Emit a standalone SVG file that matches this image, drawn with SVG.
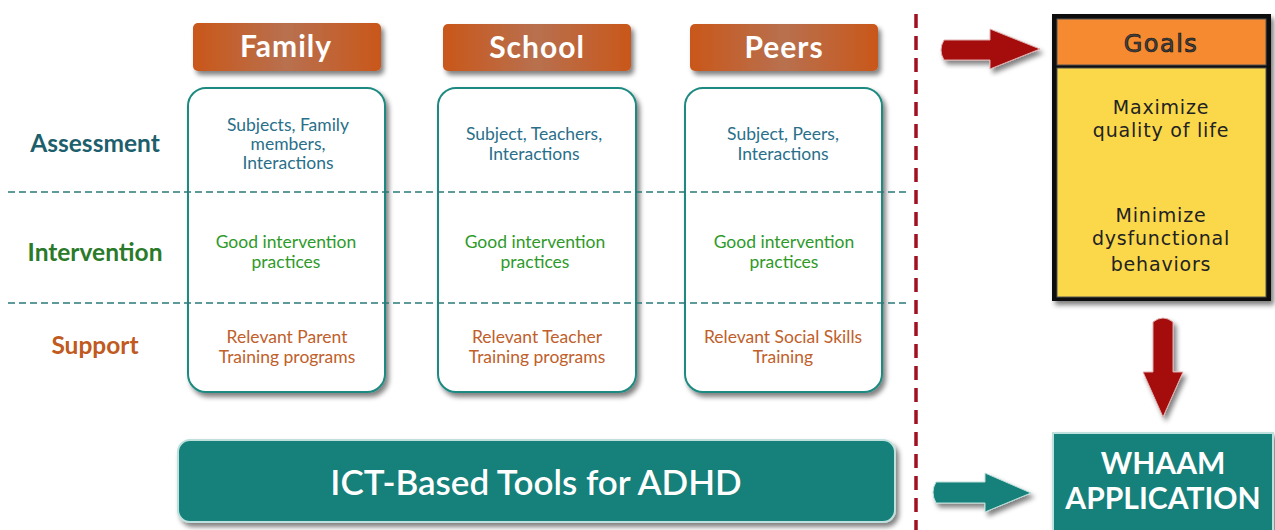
<svg xmlns="http://www.w3.org/2000/svg" width="1275" height="530" viewBox="0 0 1275 530">
<defs>
<linearGradient id="hdr" x1="0" y1="0" x2="1" y2="0">
<stop offset="0" stop-color="#c9571a"/><stop offset="0.5" stop-color="#b8704f"/><stop offset="1" stop-color="#c9571a"/>
</linearGradient>
<filter id="sh" x="-10%" y="-10%" width="130%" height="130%">
<feGaussianBlur in="SourceAlpha" stdDeviation="2.5"/><feOffset dx="3" dy="4"/>
<feComponentTransfer><feFuncA type="linear" slope="0.5"/></feComponentTransfer>
<feMerge><feMergeNode/><feMergeNode in="SourceGraphic"/></feMerge>
</filter>
<style>
.hdr{fill:url(#hdr);}
.hdrt{font-family:Lato,"Open Sans",sans-serif;font-weight:bold;font-size:30px;letter-spacing:1px;fill:#fff;text-anchor:middle;}
.col{fill:#fff;stroke:#1f8a80;stroke-width:2;}
.t{font-family:Lato,"Open Sans",sans-serif;font-size:17.5px;text-anchor:middle;}
.a{fill:#2a6f8a;}
.i{fill:#2e9a2a;}
.s{fill:#c0602a;}
.row{font-family:Lato,"Open Sans",sans-serif;font-weight:bold;font-size:24.5px;text-anchor:middle;}
.dash{stroke:#2a7a78;stroke-width:1.6;stroke-dasharray:7,4;fill:none;}
.goal{font-family:"DejaVu Sans",sans-serif;font-size:19px;letter-spacing:0.8px;fill:#222;text-anchor:middle;}
.teal{fill:#13807a;stroke:#bfe0dc;stroke-width:2;}
</style>
</defs>
<rect width="1275" height="530" fill="#fff"/>

<g id="row-labels">
<text class="row" x="95" y="152" fill="#1e5f6e">Assessment</text>
<text class="row" x="95" y="261" fill="#2a7a2a">Intervention</text>
<text class="row" x="95" y="354" fill="#c05a20">Support</text>
</g>

<g id="family">
<rect class="hdr" x="193" y="23" width="188" height="48" rx="5" filter="url(#sh)"/>
<text class="hdrt" x="286" y="57">Family</text>
<rect class="col" x="188" y="88" width="197" height="304" rx="18" filter="url(#sh)"/>
<text class="t a" x="288" y="131">Subjects, Family</text>
<text class="t a" x="288" y="150">members,</text>
<text class="t a" x="288" y="169">Interactions</text>
<text class="t i" x="286" y="248">Good intervention</text>
<text class="t i" x="286" y="268">practices</text>
<text class="t s" x="287" y="343">Relevant Parent</text>
<text class="t s" x="287" y="363">Training programs</text>
</g>

<g id="school">
<rect class="hdr" x="443" y="24" width="188" height="47" rx="5" filter="url(#sh)"/>
<text class="hdrt" x="537" y="58">School</text>
<rect class="col" x="438" y="88" width="198" height="304" rx="18" filter="url(#sh)"/>
<text class="t a" x="534" y="140">Subject, Teachers,</text>
<text class="t a" x="534" y="160">Interactions</text>
<text class="t i" x="535" y="248">Good intervention</text>
<text class="t i" x="535" y="268">practices</text>
<text class="t s" x="537" y="343">Relevant Teacher</text>
<text class="t s" x="537" y="363">Training programs</text>
</g>

<g id="peers">
<rect class="hdr" x="690" y="24" width="188" height="47" rx="5" filter="url(#sh)"/>
<text class="hdrt" x="784" y="58">Peers</text>
<rect class="col" x="685" y="88" width="197" height="304" rx="18" filter="url(#sh)"/>
<text class="t a" x="783" y="140">Subject, Peers,</text>
<text class="t a" x="783" y="160">Interactions</text>
<text class="t i" x="784" y="248">Good intervention</text>
<text class="t i" x="784" y="268">practices</text>
<text class="t s" x="783" y="343">Relevant Social Skills</text>
<text class="t s" x="783" y="363">Training</text>
</g>

<g id="dividers">
<line class="dash" x1="8" y1="192" x2="908" y2="192"/>
<line class="dash" x1="8" y1="303" x2="908" y2="303"/>
<line x1="916" y1="14" x2="916" y2="530" stroke="#a01020" stroke-width="3.5" stroke-dasharray="14,8"/>
</g>

<g id="ict">
<rect class="teal" x="178" y="440" width="717" height="82" rx="12" filter="url(#sh)"/>
<text x="536" y="495" font-family="Lato,'Open Sans',sans-serif" font-weight="600" font-size="35" fill="#fff" text-anchor="middle">ICT-Based Tools for ADHD</text>
</g>

<g id="goals">
<rect x="1052" y="14" width="219" height="287" fill="#111" filter="url(#sh)"/>
<rect x="1057" y="19" width="209" height="46" fill="#f58a30" stroke="#555" stroke-width="1"/>
<rect x="1057" y="68" width="209" height="229" fill="#fbd84a" stroke="#555" stroke-width="1"/>
<text x="1161" y="52" font-family="'DejaVu Sans',sans-serif" font-size="24" letter-spacing="1.5" fill="#444" stroke="#111" stroke-width="0.7" text-anchor="middle">Goals</text>
<text class="goal" x="1161" y="114">Maximize</text>
<text class="goal" x="1161" y="137">quality of life</text>
<text class="goal" x="1161" y="222">Minimize</text>
<text class="goal" x="1161" y="245">dysfunctional</text>
<text class="goal" x="1161" y="271">behaviors</text>
</g>

<g id="whaam">
<rect class="teal" x="1053" y="433" width="220" height="100" filter="url(#sh)"/>
<text x="1163" y="474" font-family="Lato,'Open Sans',sans-serif" font-weight="bold" font-size="30" fill="#fff" text-anchor="middle">WHAAM</text>
<text x="1163" y="509" font-family="Lato,'Open Sans',sans-serif" font-weight="bold" font-size="30" fill="#fff" text-anchor="middle">APPLICATION</text>
</g>

<g id="connectors">
<path d="M944,40 L990,40 L990,29 L1040,49 L990,69 L990,60 L944,60 Q938,50 944,40 Z" fill="#a50a0a" stroke="#e0b0b0" stroke-width="1" filter="url(#sh)"/>
<path d="M1153,322 Q1163,314 1173,322 L1173,372 L1183,372 L1163,417 L1143,372 L1153,372 Z" fill="#a50a0a" stroke="#e0b0b0" stroke-width="1" filter="url(#sh)"/>
<path d="M936,482 L985,482 L985,473 L1031,493 L985,512 L985,503 L936,503 Q930,492 936,482 Z" fill="#13807a" stroke="#bfe0dc" stroke-width="1" filter="url(#sh)"/>
</g>
</svg>
